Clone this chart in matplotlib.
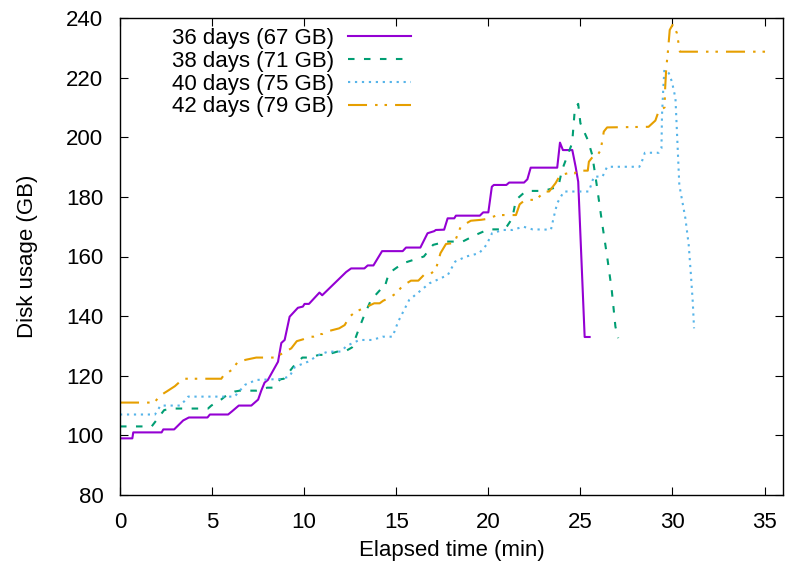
#! /usr/bin/env python3

import matplotlib
matplotlib.use("Agg")
import matplotlib.pyplot as plt

plt.rcParams['font.family'] = ['Liberation Sans', 'DejaVu Sans']
plt.rcParams['lines.scale_dashes'] = False

# elapsed time (min) / disk usage (GB)
t36 = [0, 0.67, 0.72, 2.26, 2.35, 2.94, 3.43, 3.74, 4.75, 4.88, 5.87, 6.07, 6.45, 7.13,
       7.5, 7.67, 7.85, 8.03, 8.58, 8.76, 8.94, 9.21, 9.66, 9.93, 10.02, 10.26, 10.83,
       10.98, 12.28, 12.55, 13.27, 13.45, 13.76, 14.23, 15.35, 15.53, 16.31, 16.7, 17.06,
       17.15, 17.6, 17.79, 18.15, 18.24, 19.54, 19.72, 20.0, 20.19, 20.3, 20.98, 21.13,
       21.94, 22.12, 22.3, 23.74, 23.89, 24.05, 24.56, 24.74, 24.88, 25.23, 25.5]
v36 = [99, 99, 101, 101, 102, 102, 105, 106, 106, 107, 107, 108, 110, 110,
       112, 115, 117.7, 118.6, 124.7, 131, 132, 139.8, 142.8, 143.2, 144.1, 144.1, 147.9,
       147, 154.8, 156, 156, 157, 157, 161.8, 161.8, 163, 163, 167.8, 168.5,
       168.9, 169, 172.8, 172.8, 173.7, 173.7, 174.8, 174.8, 183.4, 184, 184, 184.8,
       184.8, 185.9, 189.8, 189.8, 198.2, 195.7, 195.7, 190.1, 185.1, 133, 133]

t38 = [0, 1.72, 2.4, 2.89, 4.78, 4.96, 5.51, 5.69, 6.23, 6.5, 7.4, 8.0, 8.3, 8.7, 8.9,
       9.4, 9.9, 10.3, 10.8, 11.2, 11.8, 12.2, 12.6, 12.95, 13.27, 13.63, 14.2, 14.35,
       14.6, 15.35, 16.2, 16.5, 17.0, 17.7, 18.6, 19.3, 20.0, 20.9, 21.3, 21.5, 22.05,
       23.0, 23.8, 24.0, 24.55, 24.7, 24.88, 25.0, 25.4, 25.64, 25.9, 26.18, 26.45, 26.7,
       26.9, 27.05]
v38 = [103, 103, 108.5, 109, 109, 110, 112.1, 113, 114.7, 115, 115, 116, 116, 118.8, 119,
       123, 126.1, 126.1, 127, 127, 128.1, 128.1, 129.5, 135.4, 140.4, 145.4, 149.3, 149.3,
       154.4, 157.7, 159.4, 160, 163.9, 165, 165, 167.2, 169.1, 169.1, 172.8, 179, 182,
       182, 183.4, 189, 198, 209.7, 211.2, 204.7, 199.1, 194.1, 183.4, 171.1, 160, 148.8,
       136.5, 132.6]

t40 = [0, 1.9, 2.2, 3.25, 3.5, 3.7, 6.23, 6.4, 6.8, 7.4, 8.7, 9.2, 9.5, 10.2, 10.8, 11.3,
       12.0, 12.3, 13.0, 13.7, 14.26, 14.8, 15.1, 15.7, 16.8, 17.2, 17.8, 18.2, 18.8, 19.5,
       19.9, 20.2, 20.8, 21.3, 21.9, 22.4, 23.4, 23.56, 23.74, 24.1, 25.46, 25.73, 26.2,
       26.45, 28.2, 28.3, 28.5, 29.25, 29.4, 29.43, 29.5, 29.56, 29.8, 29.97, 30.16, 30.37,
       30.7, 30.88, 31.0, 31.1, 31.17]
v40 = [107, 107, 110, 110, 111.5, 113, 113, 114.3, 117, 118.6, 118.9, 119.7, 123, 124.7,
       127, 128.1, 128.1, 130, 132, 132, 133.1, 133.1, 138.1, 145.4, 151, 152.1, 153.8,
       158.3, 160, 161.1, 163.9, 167.8, 168.9, 168.9, 170, 169.1, 169, 173.4, 177.9, 181.8,
       181.8, 186.8, 186.8, 190.1, 190.1, 191.2, 194.8, 194.8, 196.3, 207.5, 216.4, 222.6,
       221.5, 218.6, 213.1, 184, 172.8, 163.9, 153.8, 144.8, 135.9]

t42 = [0, 1.86, 2.17, 2.53, 2.98, 3.43, 5.5, 5.7, 5.87, 6.1, 6.4, 6.86, 7.4, 8.4, 8.85,
       9.3, 9.6, 9.93, 10.3, 10.5, 10.8, 11.0, 11.4, 11.9, 12.2, 12.46, 12.8, 13.36, 13.8,
       14.1, 14.3, 14.6, 15.0, 15.35, 15.8, 16.2, 16.5, 16.8, 17.15, 17.4, 17.7, 18.15,
       18.5, 18.8, 19.05, 19.6, 20.04, 20.2, 20.5, 21.5, 21.7, 22.0, 22.6, 22.85, 23.0,
       23.3, 23.65, 23.9, 24.3, 24.7, 24.8, 25.4, 25.46, 25.7, 25.9, 26.1, 26.27, 26.45,
       28.7, 29.07, 29.25, 29.57, 29.6, 29.66, 29.75, 29.85, 30.03, 30.24, 30.4, 35.1]
v42 = [111, 111, 113.3, 114.7, 116.5, 119, 119, 120.8, 121.1, 122.1, 124.7, 125.4, 126.1,
       126.1, 127.6, 129.2, 131.6, 132.2, 133.1, 133.1, 134, 134, 135.1, 135.9, 137, 139.8,
       141.5, 143, 144.3, 144.3, 145.2, 146, 147.7, 150.2, 151.9, 151.9, 153.8, 153.8,
       155.7, 161.1, 164.2, 164.5, 170, 171.1, 172, 172.3, 172.7, 173.2, 173.9, 173.9,
       177.5, 179, 179, 180.6, 181.8, 181.8, 184.6, 187.3, 187.9, 187.9, 188.8, 188.8,
       191.8, 193.7, 193.7, 195.7, 201.9, 203.3, 203.5, 205.6, 208.8, 210, 216.4, 223.1,
       228.7, 236, 238, 234.9, 228.7, 228.7]

labels = ['36 days (67 GB)', '38 days (71 GB)', '40 days (75 GB)', '42 days (79 GB)']
xticks = [0, 5, 10, 15, 20, 25, 30, 35]
yticks = [80, 100, 120, 140, 160, 180, 200, 220, 240]

fig = plt.figure(figsize=(7.87, 5.66), dpi=100)
ax = fig.add_axes([120 / 787, 1 - 495 / 566, 663 / 787, 477 / 566])

lw = 1.5
ax.plot(t36, v36, color='#9400D3', lw=lw, linestyle='-', label=labels[0])
ax.plot(t38, v38, color='#009E73', lw=lw, linestyle=(0, (4.7, 6.8)), label=labels[1])
ax.plot(t40, v40, color='#56B4E9', lw=lw, linestyle=(0, (1.6, 3.4)), label=labels[2])
ax.plot(t42, v42, color='#E69F00', lw=lw,
        linestyle=(0, (13.7, 5.8, 1.8, 5.0, 1.8, 5.8)), label=labels[3])

fs = 16
ax.set_xlim(0, 36)
ax.set_ylim(80, 240)
ax.set_xticks(xticks)
ax.set_yticks(yticks)
ax.tick_params(direction='in', top=True, right=True, length=6, width=0.8,
               labelsize=fs)
ax.tick_params(axis='x', pad=12)
ax.tick_params(axis='y', pad=12)
for s in ax.spines.values():
    s.set_linewidth(1.0)

ax.set_xlabel('Elapsed time (min)', fontsize=fs, labelpad=5)
ax.set_ylabel('Disk usage (GB)', fontsize=fs, labelpad=20)

ax.legend(loc='upper left', bbox_to_anchor=(0.063, 1.0), frameon=False,
          markerfirst=False, fontsize=fs, handlelength=2.8, handletextpad=0.65,
          labelspacing=0.08, borderaxespad=0.05)

fig.savefig('out.png', dpi=100)
